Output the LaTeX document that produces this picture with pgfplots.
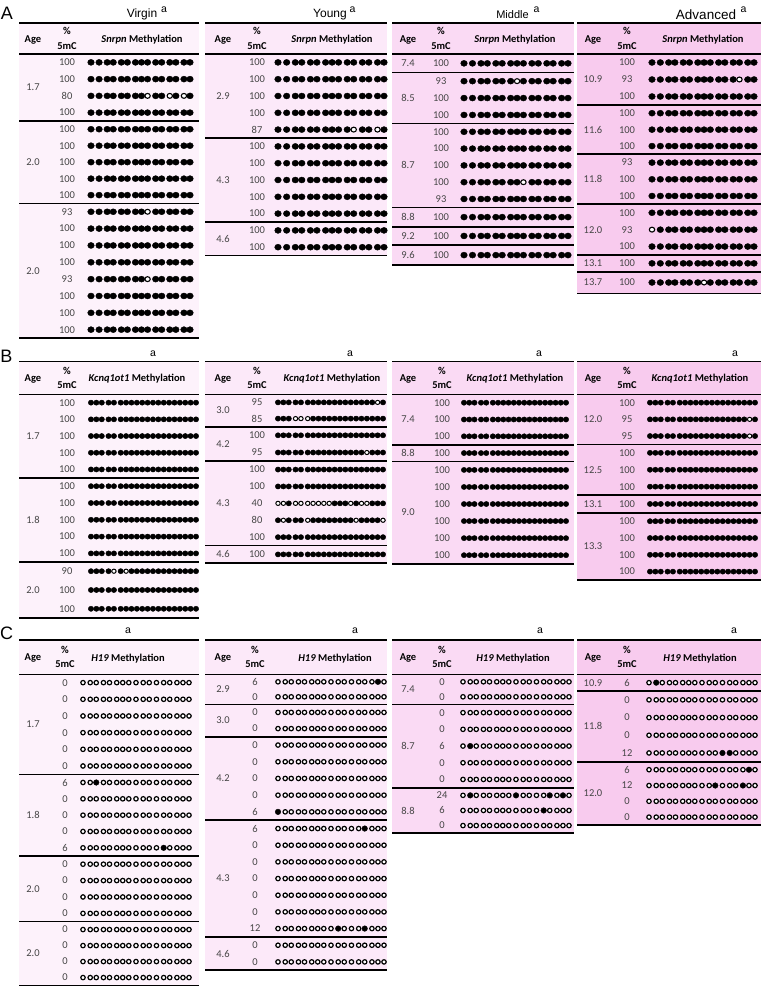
\documentclass[border=0pt]{standalone}
\usepackage{fontspec}
\setmainfont{Carlito}
\newfontfamily\arialf{Liberation Sans}
\usepackage{pgfplots}
\pgfplotsset{compat=1.18}

\definecolor{bgV}{RGB}{253,242,251}
\definecolor{bgY}{RGB}{252,233,249}
\definecolor{bgM}{RGB}{250,218,244}
\definecolor{bgA}{RGB}{248,203,238}
\definecolor{valc}{RGB}{70,70,70}

\pgfplotsset{
  valtext/.style={draw=none, nodes near coords, point meta=explicit symbolic,
    nodes near coords style={anchor=center, inner sep=0pt, text=valc,
      font=\fontsize{10.5}{12}\selectfont}},
  dotFA/.style={only marks, mark=*, mark size=3.0pt, mark options={xscale=1.1, fill=black, draw=black}},
  dotOA/.style={only marks, mark=*, mark size=2.45pt, mark options={xscale=1.1, fill=white, draw=black, line width=1.1pt}},
  dotFB/.style={only marks, mark=*, mark size=2.6pt, mark options={xscale=1.05, fill=black, draw=black}},
  dotOB/.style={only marks, mark=*, mark size=2.1pt, mark options={xscale=1.05, fill=white, draw=black, line width=1.0pt}},
  dotFC/.style={only marks, mark=*, mark size=2.8pt, mark options={fill=black, draw=black}},
  dotOC/.style={only marks, mark=*, mark size=2.2pt, mark options={fill=white, draw=black, line width=1.2pt}},
}
\tikzset{
  hdr/.style={font=\bfseries\fontsize{10.5}{14.5}\selectfont, align=center, inner sep=0pt},
  ttl/.style={font=\arialf\fontsize{12}{14}\selectfont, inner sep=0pt},
  sup/.style={font=\arialf\fontsize{10.5}{12}\selectfont, inner sep=0pt},
  letter/.style={font=\arialf\fontsize{18}{20}\selectfont, inner sep=0pt},
}

\makeatletter
% CpG positions along each amplicon (px from the first site)
\def\posA{0,8,16,22,30,36,44,50,56,64,70,78,84,92,98}
\def\spanA{98}
\def\posB{0,5.3,10.6,17.3,22.6,29.3,34.6,39.9,45.2,50.5,55.8,61.1,66.4,71.7,77,82.3,87.6,92.9,98.2,103.5}
\def\spanB{103.5}
\def\posC{0,7.4,13.6,21,27.2,34.6,40.8,47,54.4,61.8,68,75.4,82.8,89,96.4,102.6,108.8}
\def\spanC{108.8}

\gdef\linelist{}\gdef\pctlist{}\gdef\agelist{}\gdef\nodelist{}\gdef\bglist{}
\gdef\accFA{}\gdef\accOA{}\gdef\accFB{}\gdef\accOB{}\gdef\accFC{}\gdef\accOC{}

\def\appendto#1#2{\expandafter\xdef\csname#1\endcsname{\csname#1\endcsname#2}}

% panel: name, top rule, header rule, usual state, state of listed sites, gene
\newcommand\Panel[6]{%
  \gdef\curpanel{#1}\gdef\ptop{#2}\gdef\phead{#3}%
  \gdef\defkind{#4}\gdef\altkind{#5}\gdef\gene{#6}%
  \expandafter\global\expandafter\let\expandafter\curpos\csname pos#1\endcsname
  \expandafter\global\expandafter\let\expandafter\curspan\csname span#1\endcsname
}
% table: left, right, first site, last site, age x, %5mC x, header x, row pitch, colour
\newcommand\Tab[9]{%
  \gdef\tleft{#1}\gdef\tright{#2}\gdef\xa{#3}\gdef\xb{#4}%
  \gdef\agex{#5}\gdef\pctx{#6}\gdef\tabpitch{#8}\gdef\tcol{#9}%
  \global\let\cury\phead
  \xdef\linelist{\linelist (#1,\ptop) (#2,\ptop) (#1,nan) (#1,\phead) (#2,\phead) (#1,nan)}%
  \pgfmathsetmacro\hm{(\ptop+\phead)/2}%
  \xdef\nodelist{\unexpanded\expandafter{\nodelist}
    \noexpand\node[hdr] at (axis cs:#5,\hm+1) {Age};
    \noexpand\node[hdr] at (axis cs:#6,\hm) {\unexpanded{\%\\5mC}};
    \noexpand\node[hdr] at (axis cs:#7,\hm+1) {\noexpand\textit{\gene} Methylation};}%
}
\newcommand\EndTab{%
  \xdef\bglist{\unexpanded\expandafter{\bglist} \noexpand\addplot[draw=none, fill=\tcol] coordinates
    {(\tleft,\ptop) (\tright,\ptop) (\tright,\cury) (\tleft,\cury)} -- cycle;}%
}
% group of clones from one animal: [row pitch], age, rows
\newcommand\G[3][]{%
  \if\relax\detokenize{#1}\relax\global\let\gp\tabpitch\else\gdef\gp{#1}\fi
  \global\let\gstart\cury
  #3%
  \pgfmathsetmacro\ym{(\gstart+\cury)/2}%
  \xdef\agelist{\agelist (\agex,\ym) [#2]}%
  \xdef\linelist{\linelist (\tleft,\cury) (\tright,\cury) (\tleft,nan)}%
}
% one clone: % 5mC, sites that differ from the usual state (0-based)
\newcommand\R[2]{%
  \pgfmathsetmacro\yy{\cury+\gp/2}%
  \xdef\pctlist{\pctlist (\pctx,\yy) [#1]}%
  \edef\exc{,#2,}%
  \foreach \p [count=\k from 0] in \curpos {%
    \pgfmathsetmacro\xx{\xa+\p/\curspan*(\xb-\xa)}%
    \edef\tmp{\noexpand\in@{,\k,}{\exc}}\tmp
    \ifin@\appendto{acc\altkind\curpanel}{(\xx,\yy)}%
    \else\appendto{acc\defkind\curpanel}{(\xx,\yy)}\fi
  }%
  \pgfmathsetmacro\cury{\cury+\gp}\global\let\cury\cury
}
\makeatother

\begin{document}
\begin{tikzpicture}
% ---------------- A: Snrpn ----------------
\Panel{A}{23}{54}{F}{O}{Snrpn}
\Tab{19}{199}{91}{190}{33}{67}{142}{16.75}{bgV}
\G[16.75]{1.7}{\R{100}{}\R{100}{}\R{80}{8,11,13}\R{100}{}}
\G[16.47]{2.0}{\R{100}{}\R{100}{}\R{100}{}\R{100}{}\R{100}{}}
\G[16.84]{2.0}{\R{93}{8}\R{100}{}\R{100}{}\R{100}{}\R{93}{8}\R{100}{}\R{100}{}\R{100}{}}
\EndTab
\Tab{205}{387}{278}{384}{223}{257}{332}{16.8}{bgY}
\G{2.9}{\R{100}{}\R{100}{}\R{100}{}\R{100}{}\R{87}{10,13}}
\G{4.3}{\R{100}{}\R{100}{}\R{100}{}\R{100}{}\R{100}{}}
\G{4.6}{\R{100}{}\R{100}{}}
\EndTab
\Tab{392}{574}{464}{568}{408}{441}{515}{16.9}{bgM}
\G[18.7]{7.4}{\R{100}{}}
\G[16.9]{8.5}{\R{93}{7}\R{100}{}\R{100}{}}
\G[16.8]{8.7}{\R{100}{}\R{100}{}\R{100}{}\R{100}{8}\R{93}{}}
\G[19.4]{8.8}{\R{100}{}}
\G[18.3]{9.2}{\R{100}{}}
\G[20]{9.6}{\R{100}{}}
\EndTab
\Tab{577}{761}{652}{754}{593}{627}{703}{16.7}{bgA}
\G[17]{10.9}{\R{100}{}\R{93}{12}\R{100}{}}
\G[16.43]{11.6}{\R{100}{}\R{100}{}\R{100}{}}
\G[16.67]{11.8}{\R{93}{}\R{100}{}\R{100}{}}
\G[16.9]{12.0}{\R{100}{}\R{93}{0}\R{100}{}}
\G[16.7]{13.1}{\R{100}{}}
\G[21.6]{13.7}{\R{100}{7}}
\EndTab
% ---------------- B: Kcnq1ot1 ----------------
\Panel{B}{361.5}{394.3}{F}{O}{Kcnq1ot1}
\Tab{19}{199}{91}{196}{33}{67}{137}{16.8}{bgV}
\G[16.7]{1.7}{\R{100}{}\R{100}{}\R{100}{}\R{100}{}\R{100}{}}
\G[16.8]{1.8}{\R{100}{}\R{100}{}\R{100}{}\R{100}{}\R{100}{}}
\G[18.8]{2.0}{\R{90}{4,6}\R{100}{}\R{100}{}}
\EndTab
\Tab{205}{387}{278}{383}{223}{257}{332}{16.9}{bgY}
\G[16.2]{3.0}{\R{95}{18}\R{85}{3,4,5}}
\G[17.2]{4.2}{\R{100}{}\R{95}{16}}
\G[16.9]{4.3}{\R{100}{}\R{100}{}\R{40}{0,1,3,4,5,6,7,8,9,13,15,16}\R{80}{1,5,14,19}\R{100}{}}
\G[17.6]{4.6}{\R{100}{}}
\EndTab
\Tab{392}{574}{464}{566}{408}{442}{515}{16.9}{bgM}
\G[16.8]{7.4}{\R{100}{}\R{100}{}\R{100}{}}
\G[16.7]{8.8}{\R{100}{}}
\G[17.05]{9.0}{\R{100}{}\R{100}{}\R{100}{}\R{100}{}\R{100}{}\R{100}{}}
\EndTab
\Tab{577}{761}{650}{755}{593}{627}{700}{16.9}{bgA}
\G[16.7]{12.0}{\R{100}{}\R{95}{18}\R{95}{18}}
\G[16.9]{12.5}{\R{100}{}\R{100}{}\R{100}{}}
\G[17.7]{13.1}{\R{100}{}}
\G[16.8]{13.3}{\R{100}{}\R{100}{}\R{100}{}\R{100}{}}
\EndTab
% ---------------- C: H19 ----------------
\Panel{C}{640}{674.3}{O}{F}{H19}
\Tab{19}{199}{83}{189}{33}{65}{128}{16.4}{bgV}
\G[16.67]{1.7}{\R{0}{}\R{0}{}\R{0}{}\R{0}{}\R{0}{}\R{0}{}}
\G[16.33]{1.8}{\R{6}{2}\R{0}{}\R{0}{}\R{0}{}\R{6}{12}}
\G[16.4]{2.0}{\R{0}{}\R{0}{}\R{0}{}\R{0}{}}
\G[16]{2.0}{\R{0}{}\R{0}{}\R{0}{}\R{0}{}}
\EndTab
\Tab{205}{387}{278}{384}{223}{255}{335}{16.7}{bgY}
\G[15]{2.9}{\R{6}{15}\R{0}{}}
\G[16.2]{3.0}{\R{0}{}\R{0}{}}
\G[16.7]{4.2}{\R{0}{}\R{0}{}\R{0}{}\R{0}{}\R{6}{0}}
\G[16.67]{4.3}{\R{6}{13}\R{0}{}\R{0}{}\R{0}{}\R{0}{}\R{0}{}\R{12}{9,13}}
\G[16.67]{4.6}{\R{0}{}\R{0}{}}
\EndTab
\Tab{392}{574}{463}{569}{408}{442}{513}{16}{bgM}
\G[15]{7.4}{\R{0}{}\R{0}{}}
\G[16.7]{8.7}{\R{0}{}\R{0}{}\R{6}{1}\R{0}{}\R{0}{}}
\G[15.1]{8.8}{\R{24}{1,8,13,15}\R{6}{12}\R{0}{}}
\EndTab
\Tab{577}{761}{649}{755}{593}{627}{700}{16.8}{bgA}
\G[16.7]{10.9}{\R{6}{1}}
\G[17.7]{11.8}{\R{0}{}\R{0}{}\R{0}{}\R{12}{11,12}}
\G[15.8]{12.0}{\R{6}{15}\R{12}{10,14}\R{0}{}\R{0}{}}
\EndTab

\begin{axis}[
  scale only axis, width=763pt, height=992pt,
  xmin=0, xmax=763, ymin=0, ymax=992, y dir=reverse,
  hide axis, clip=false, enlargelimits=false,
]
\addplot[draw=none, fill=white] coordinates {(0,0) (763,0) (763,992) (0,992)} -- cycle;
\bglist
\edef\tmp{\noexpand\addplot[black, line width=1.6pt, unbounded coords=jump] coordinates {\linelist};}\tmp
\edef\tmp{\noexpand\addplot[dotFA] coordinates {\accFA};}\tmp
\edef\tmp{\noexpand\addplot[dotOA] coordinates {\accOA};}\tmp
\edef\tmp{\noexpand\addplot[dotFB] coordinates {\accFB};}\tmp
\edef\tmp{\noexpand\addplot[dotOB] coordinates {\accOB};}\tmp
\edef\tmp{\noexpand\addplot[dotOC] coordinates {\accOC};}\tmp
\edef\tmp{\noexpand\addplot[dotFC] coordinates {\accFC};}\tmp
\edef\tmp{\noexpand\addplot[valtext] coordinates {\pctlist};}\tmp
\edef\tmp{\noexpand\addplot[valtext] coordinates {\agelist};}\tmp
\nodelist
% panel letters and group titles
\node[letter] at (axis cs:7,13.5) {A};
\node[letter] at (axis cs:6.5,356.5) {B};
\node[letter] at (axis cs:6.5,633.5) {C};
\node[ttl] at (axis cs:142,14.5) {Virgin};
\node[sup] at (axis cs:164,9.5) {a};
\node[ttl] at (axis cs:330,14.5) {Young};
\node[sup] at (axis cs:352.5,9.5) {a};
\node[ttl, font=\arialf\fontsize{11}{13}\selectfont] at (axis cs:512.5,14.5) {Middle};
\node[sup] at (axis cs:536.5,9.5) {a};
\node[ttl, font=\arialf\fontsize{13.5}{15}\selectfont] at (axis cs:706,14.5) {Advanced};
\node[sup] at (axis cs:743.5,9.5) {a};
\node[sup] at (axis cs:153,354) {a};
\node[sup] at (axis cs:350,354) {a};
\node[sup] at (axis cs:539,354) {a};
\node[sup] at (axis cs:735,354) {a};
\node[sup] at (axis cs:128,631) {a};
\node[sup] at (axis cs:355,631) {a};
\node[sup] at (axis cs:540,631) {a};
\node[sup] at (axis cs:734,631) {a};
\end{axis}
\end{tikzpicture}
\end{document}
